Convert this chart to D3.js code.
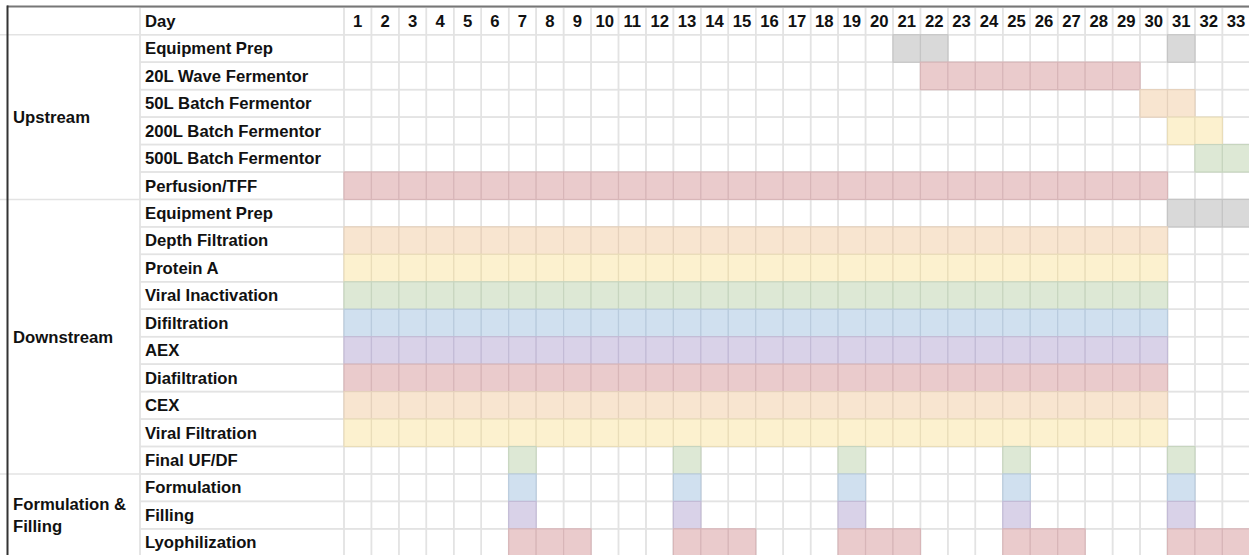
<!DOCTYPE html>
<html>
<head>
<meta charset="utf-8">
<script src="https://cdn.jsdelivr.net/npm/d3@7"></script>
<style>
  html, body { margin: 0; padding: 0; background: #fff; }
  svg { display: block; }
  text { font-family: "Liberation Sans", Arial, Helvetica, sans-serif; font-weight: bold; fill: #111; }
</style>
</head>
<body>
<script>
// ---- Data ----
const days = [1,2,3,4,5,6,7,8,9,10,11,12,13,14,15,16,17,18,19,20,21,22,23,24,25,26,27,28,29,30,31,32,33];
const headerLabel = "Day";
const groups = ["Upstream", "Downstream", "Formulation & Filling"];
const groupLines = [["Upstream"], ["Downstream"], ["Formulation &", "Filling"]];
const tasks = [
  "Equipment Prep", "20L Wave Fermentor", "50L Batch Fermentor", "200L Batch Fermentor",
  "500L Batch Fermentor", "Perfusion/TFF",
  "Equipment Prep", "Depth Filtration", "Protein A", "Viral Inactivation", "Difiltration",
  "AEX", "Diafiltration", "CEX", "Viral Filtration", "Final UF/DF",
  "Formulation", "Filling", "Lyophilization"
];
const taskGroup = [0,0,0,0,0,0, 1,1,1,1,1,1,1,1,1,1, 2,2,2];
const taskColor = [
  "gray", "red", "orange", "yellow", "green", "red",
  "gray", "orange", "yellow", "green", "blue", "purple", "red", "orange", "yellow", "green",
  "blue", "purple", "red"
];
// active day ranges [startDay, endDay] per task
const taskSpans = [
  [[21,22],[31,31]],
  [[22,29]],
  [[30,31]],
  [[31,32]],
  [[32,33]],
  [[1,30]],
  [[31,33]],
  [[1,30]],
  [[1,30]],
  [[1,30]],
  [[1,30]],
  [[1,30]],
  [[1,30]],
  [[1,30]],
  [[1,30]],
  [[7,7],[13,13],[19,19],[25,25],[31,31]],
  [[7,7],[13,13],[19,19],[25,25],[31,31]],
  [[7,7],[13,13],[19,19],[25,25],[31,31]],
  [[7,9],[13,15],[19,21],[25,27],[31,33]]
];

// ---- Styles ----
const palette = {
  gray:   { fill: "#d9d9d9", stroke: "#c5c5c5" },
  red:    { fill: "#eacbcc", stroke: "#d8b6b8" },
  orange: { fill: "#f8e5d0", stroke: "#e5d1bc" },
  yellow: { fill: "#fcf1cf", stroke: "#e9ddb9" },
  green:  { fill: "#dde8d5", stroke: "#c7d5bf" },
  blue:   { fill: "#d0e0ef", stroke: "#b9cbdd" },
  purple: { fill: "#d9d2e8", stroke: "#c3bbd6" }
};
const W = 1249, H = 555;
const gridColor = "#e3e3e3";
const colA = [8, 140], colB = [140, 344];
const colW = 27.45, rowH = 27.45, topY = 7.3;

const svg = d3.select("body").append("svg").attr("width", W).attr("height", H);
svg.append("rect").attr("width", W).attr("height", H).attr("fill", "#fff");

const x = d3.scaleBand().domain(days).range([colB[1], colB[1] + days.length * colW]).paddingInner(0).paddingOuter(0);
const rowKeys = ["header"].concat(tasks.map((t, i) => "r" + i));
const y = d3.scaleBand().domain(rowKeys).range([topY, topY + rowKeys.length * rowH]).paddingInner(0);

// grid cells for day columns
const cells = [];
rowKeys.forEach(rk => days.forEach(d => cells.push({ rk, d })));
svg.append("g").selectAll("rect").data(cells).join("rect")
  .attr("x", c => x(c.d)).attr("y", c => y(c.rk))
  .attr("width", x.bandwidth()).attr("height", y.bandwidth())
  .attr("fill", "none").attr("stroke", gridColor).attr("stroke-width", 1.5);

// column B cells
svg.append("g").selectAll("rect").data(rowKeys).join("rect")
  .attr("x", colB[0]).attr("y", rk => y(rk))
  .attr("width", colB[1] - colB[0]).attr("height", y.bandwidth())
  .attr("fill", "none").attr("stroke", gridColor).attr("stroke-width", 1.5);

// column A: header cell + merged group cells
const groupRanges = groups.map((g, gi) => {
  const idx = taskGroup.map((v, i) => v === gi ? i : -1).filter(i => i >= 0);
  const y0 = y("r" + idx[0]);
  const y1 = y("r" + idx[idx.length - 1]) + y.bandwidth();
  return { gi, y0, y1 };
});
svg.append("g").selectAll("line").data([topY + rowH].concat(groupRanges.map(r => r.y1))).join("line")
  .attr("x1", 0).attr("x2", colA[1]).attr("y1", d => d).attr("y2", d => d)
  .attr("stroke", gridColor).attr("stroke-width", 1.5);
svg.append("line").attr("x1", colA[1]).attr("x2", colA[1]).attr("y1", topY).attr("y2", H)
  .attr("stroke", gridColor).attr("stroke-width", 1.5);

// coloured activity cells
const active = [];
taskSpans.forEach((spans, ti) => spans.forEach(([s, e]) => {
  days.filter(d => d >= s && d <= e).forEach(d => active.push({ ti, d, c: taskColor[ti] }));
}));
svg.append("g").selectAll("rect").data(active).join("rect")
  .attr("x", a => x(a.d)).attr("y", a => y("r" + a.ti))
  .attr("width", x.bandwidth()).attr("height", y.bandwidth())
  .attr("fill", a => palette[a.c].fill).attr("stroke", a => palette[a.c].stroke).attr("stroke-width", 1.2);

// borders
svg.append("line").attr("x1", 7).attr("x2", W).attr("y1", 6.5).attr("y2", 6.5)
  .attr("stroke", "#777").attr("stroke-width", 2);
svg.append("line").attr("x1", 7.5).attr("x2", 7.5).attr("y1", 5.5).attr("y2", H)
  .attr("stroke", "#333").attr("stroke-width", 2);

const fs = 16.7;
const mid = rk => y(rk) + y.bandwidth() / 2 + 5.8;

// header
svg.append("text").attr("x", 145).attr("y", mid("header")).attr("font-size", fs).text(headerLabel);
svg.append("g").selectAll("text").data(days).join("text")
  .attr("x", d => x(d) + x.bandwidth() / 2).attr("y", mid("header"))
  .attr("text-anchor", "middle").attr("font-size", fs).text(d => d);

// task labels
svg.append("g").selectAll("text").data(tasks).join("text")
  .attr("x", 145).attr("y", (t, i) => mid("r" + i)).attr("font-size", fs).text(t => t);

// group labels
const lineGap = 22;
svg.append("g").selectAll("text").data(groupRanges).join("text")
  .attr("font-size", fs)
  .each(function(r) {
    const lines = groupLines[r.gi];
    const cy = (r.y0 + Math.min(r.y1, H + 2)) / 2;
    const first = cy - (lines.length - 1) * lineGap / 2 + 5.8;
    d3.select(this).selectAll("tspan").data(lines).join("tspan")
      .attr("x", 13).attr("y", (l, i) => first + i * lineGap).text(l => l);
  });
</script>
</body>
</html>
